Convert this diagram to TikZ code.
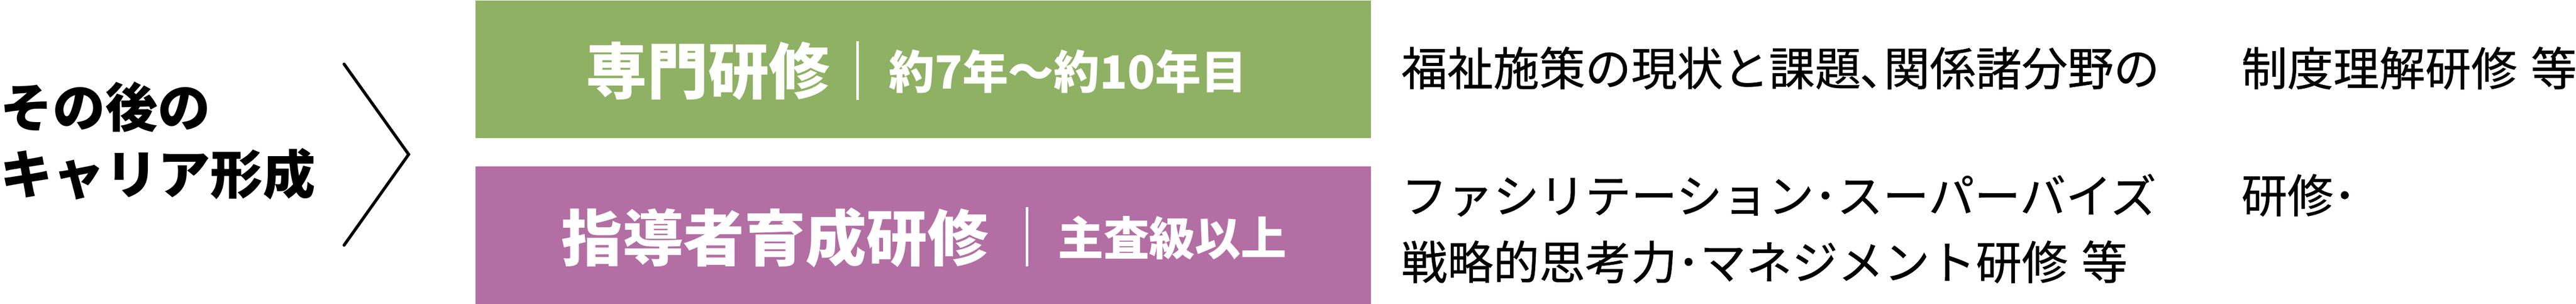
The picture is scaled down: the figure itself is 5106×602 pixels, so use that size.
\documentclass[tikz,border=0pt]{standalone}
\usepackage{fontspec}
\setmainfont{Noto Sans CJK JP}
\newfontfamily\coursefont{Noto Sans CJK JP}[FakeBold=0.6]
\usetikzlibrary{positioning}
\definecolor{senmongreen}{RGB}{143,177,99}
\definecolor{shidoupurple}{RGB}{179,110,163}

\begin{document}
\begin{tikzpicture}[x=0.01cm, y=-0.01cm,
    band/.style={draw=none, inner sep=0, minimum width=17.74cm, minimum height=2.73cm, anchor=north west},
    lead/.style={font=\bfseries\fontsize{29.6}{37.5}\selectfont, align=left, inner sep=0, anchor=west},
    boxtitle/.style={text=white, font=\bfseries\fontsize{34.4}{34.4}\selectfont, inner sep=0, anchor=west},
    boxsub/.style={text=white, font=\bfseries\fontsize{25.8}{25.8}\selectfont, inner sep=0, anchor=west},
    body/.style={font=\coursefont\fontsize{25.9}{25.9}\selectfont, inner sep=0, anchor=west},
    bar/.style={white, line width=1.4pt}]

        \useasboundingbox (0,0) rectangle (5106,602);

        %% coloured bands
        \node[band, fill=senmongreen] (senmon) at (942,0) {};
        \node[band, fill=shidoupurple] (shidou) at (942,329) {};

        %% chevron
        \coordinate (chevtop) at (682,127);
        \coordinate (chevtip) at (810,306);
        \coordinate (chevbot) at (682,486);
        \draw[line width=1.7pt, line cap=round] (chevtop) -- (chevtip) -- (chevbot);

        % labels
        \node[lead] (career) at (0,279) {その後の\\キャリア形成};

        \node[boxtitle] (senmontitle) at (1161,141) {専門研修};
        \node[boxsub] (senmonyears) at (1761,141) {約7年〜約10年目};
        \coordinate (senmonbartop) at (1700,82);
        \coordinate (senmonbarbot) at (1700,198);
        \draw[bar] (senmonbartop) -- (senmonbarbot);

        \node[boxtitle] (shidoutitle) at (1112,471) {指導者育成研修};
        \node[boxsub] (shidourank) at (2096,471) {主査級以上};
        \coordinate (shidoubartop) at (2036,411);
        \coordinate (shidoubarbot) at (2036,528);
        \draw[bar] (shidoubartop) -- (shidoubarbot);

        % course texts
        \node[body] (senmonbody) at (2777,135) {福祉施策の現状と課題､関係諸分野の};
        \node[body] (senmonbodyend) at (4442,135) {制度理解研修\hspace{0.3em}等};
        \node[body] (shidoubody) at (2777,387) {ファシリテーション･スーパーバイズ};
        \node[body] (shidoubodyend) at (4442,387) {研修･};
        \node[body] (shidoubodynext) at (2777,519) {戦略的思考力･マネジメント研修\hspace{0.3em}等};
    \end{tikzpicture}
\end{document}
